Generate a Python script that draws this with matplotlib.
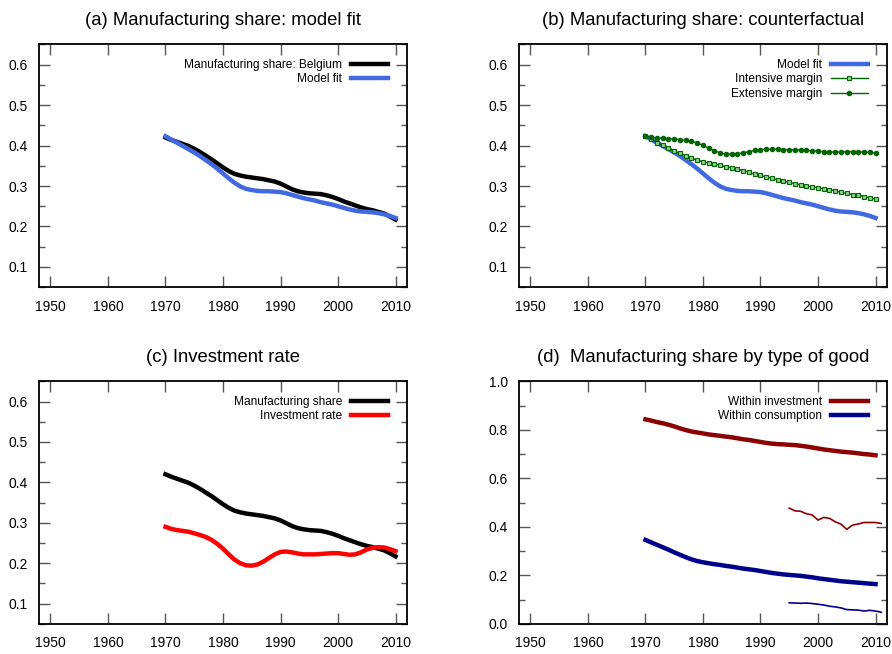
import numpy as np
import matplotlib
matplotlib.use('Agg')
import matplotlib.pyplot as plt
from matplotlib.ticker import MultipleLocator, FormatStrFormatter

plt.rcParams['font.family'] = ['Liberation Sans', 'DejaVu Sans']

years = list(range(1970, 2011))
years_thin = list(range(1995, 2012))

# manufacturing share, Belgium (data)
manuf_belgium = [0.420, 0.414, 0.409, 0.404, 0.399, 0.392, 0.384, 0.375, 0.366, 0.356,
                 0.346, 0.337, 0.330, 0.326, 0.323, 0.321, 0.319, 0.317, 0.314, 0.311,
                 0.306, 0.299, 0.292, 0.287, 0.284, 0.282, 0.281, 0.280, 0.277, 0.273,
                 0.268, 0.262, 0.257, 0.252, 0.247, 0.243, 0.240, 0.236, 0.232, 0.225,
                 0.217]
model_fit = [0.423, 0.415, 0.407, 0.399, 0.391, 0.383, 0.374, 0.364, 0.354, 0.343,
             0.331, 0.319, 0.308, 0.299, 0.293, 0.290, 0.288, 0.287, 0.287, 0.286,
             0.285, 0.282, 0.278, 0.274, 0.270, 0.267, 0.264, 0.260, 0.257, 0.254,
             0.250, 0.246, 0.242, 0.239, 0.237, 0.236, 0.235, 0.233, 0.230, 0.226,
             0.221]
intensive_margin = [0.424, 0.416, 0.406, 0.401, 0.394, 0.387, 0.381, 0.375, 0.369, 0.364,
                    0.360, 0.357, 0.354, 0.351, 0.348, 0.345, 0.342, 0.338, 0.334, 0.329,
                    0.326, 0.323, 0.319, 0.315, 0.312, 0.309, 0.306, 0.303, 0.300, 0.298,
                    0.296, 0.293, 0.291, 0.288, 0.284, 0.282, 0.279, 0.277, 0.274, 0.271,
                    0.267]
extensive_margin = [0.424, 0.421, 0.419, 0.418, 0.417, 0.416, 0.415, 0.413, 0.411, 0.406,
                    0.401, 0.393, 0.387, 0.382, 0.379, 0.379, 0.380, 0.382, 0.385, 0.388,
                    0.390, 0.391, 0.391, 0.391, 0.390, 0.390, 0.389, 0.389, 0.388, 0.387,
                    0.386, 0.385, 0.384, 0.384, 0.384, 0.385, 0.385, 0.385, 0.384, 0.383,
                    0.381]
investment_rate = [0.290, 0.285, 0.282, 0.280, 0.278, 0.274, 0.270, 0.265, 0.258, 0.248,
                   0.236, 0.222, 0.209, 0.200, 0.195, 0.194, 0.197, 0.204, 0.213, 0.222,
                   0.228, 0.229, 0.227, 0.224, 0.222, 0.222, 0.222, 0.223, 0.224, 0.225,
                   0.225, 0.223, 0.221, 0.222, 0.227, 0.234, 0.238, 0.240, 0.239, 0.235,
                   0.230]
within_investment = [0.843, 0.838, 0.832, 0.827, 0.821, 0.814, 0.806, 0.799, 0.793, 0.789,
                     0.785, 0.781, 0.778, 0.775, 0.772, 0.769, 0.765, 0.761, 0.758, 0.754,
                     0.750, 0.746, 0.743, 0.741, 0.740, 0.738, 0.737, 0.734, 0.731, 0.727,
                     0.723, 0.719, 0.716, 0.713, 0.710, 0.708, 0.706, 0.703, 0.700, 0.698,
                     0.695]
within_consumption = [0.346, 0.336, 0.326, 0.316, 0.306, 0.295, 0.285, 0.275, 0.266, 0.259,
                      0.254, 0.250, 0.246, 0.243, 0.239, 0.236, 0.232, 0.228, 0.225, 0.222,
                      0.218, 0.214, 0.210, 0.207, 0.204, 0.202, 0.200, 0.198, 0.195, 0.192,
                      0.188, 0.185, 0.182, 0.179, 0.176, 0.174, 0.172, 0.170, 0.168, 0.166,
                      0.164]
# thin lines 1995-2011
inv_thin = [0.477, 0.466, 0.464, 0.454, 0.449, 0.428, 0.439, 0.435, 0.421, 0.411,
            0.390, 0.407, 0.412, 0.418, 0.418, 0.418, 0.414]
cons_thin = [0.087, 0.086, 0.085, 0.086, 0.084, 0.081, 0.078, 0.073, 0.070, 0.066,
             0.059, 0.058, 0.057, 0.053, 0.056, 0.053, 0.048]

x_ticks = [1950, 1960, 1970, 1980, 1990, 2000, 2010]

ROYAL = '#4169e1'
GREEN = '#006400'
LW = 3.2

fig = plt.figure(figsize=(8.92, 6.54), dpi=100)
w, h = 0.4126, 0.371
ax_a = fig.add_axes([0.0437, 0.561, w, h])
ax_b = fig.add_axes([0.5818, 0.561, w, h])
ax_c = fig.add_axes([0.0437, 0.046, w, h])
ax_d = fig.add_axes([0.5818, 0.046, w, h])


def style_axes(ax, ylim, ymajor, yminor, fmt):
    ax.set_xlim(1948, 2012)
    ax.set_ylim(*ylim)
    ax.set_xticks(x_ticks)
    ax.yaxis.set_major_locator(MultipleLocator(ymajor))
    ax.yaxis.set_minor_locator(MultipleLocator(yminor))
    ax.yaxis.set_major_formatter(FormatStrFormatter(fmt))
    ax.tick_params(axis='both', which='major', direction='in', length=8, width=1,
                   color='#555555', labelsize=10, top=True, right=True, pad=8)
    ax.tick_params(axis='x', which='major', pad=9)
    ax.tick_params(axis='y', which='minor', direction='in', length=4, width=1,
                   color='#555555', right=True)
    for s in ax.spines.values():
        s.set_linewidth(1.3)


def legend(ax):
    ax.legend(loc='upper right', bbox_to_anchor=(0.948, 0.94), frameon=False,
              markerfirst=False, fontsize=8.6, handlelength=3.1, handletextpad=0.75,
              labelspacing=0.2, borderpad=0, borderaxespad=0, numpoints=1)


# (a)
ax_a.plot(years, manuf_belgium, color='black', lw=LW, label='Manufacturing share: Belgium')
ax_a.plot(years, model_fit, color=ROYAL, lw=LW, label='Model fit')
style_axes(ax_a, (0.05, 0.65), 0.1, 0.05, '%.1f')
ax_a.set_title('(a) Manufacturing share: model fit', fontsize=13.3, pad=14)
legend(ax_a)

# (b)
ax_b.plot(years, model_fit, color=ROYAL, lw=LW, label='Model fit')
ax_b.plot(years, intensive_margin, color=GREEN, lw=1, marker='s', ms=3.0,
          mfc='#8fd18f', mec=GREEN, mew=0.8, label='Intensive margin')
ax_b.plot(years, extensive_margin, color=GREEN, lw=1, marker='o', ms=3.0,
          mfc=GREEN, mec=GREEN, label='Extensive margin')
style_axes(ax_b, (0.05, 0.65), 0.1, 0.05, '%.1f')
ax_b.set_title('(b) Manufacturing share: counterfactual', fontsize=13.3, pad=14)
legend(ax_b)

# (c)
ax_c.plot(years, manuf_belgium, color='black', lw=LW, label='Manufacturing share')
ax_c.plot(years, investment_rate, color='red', lw=LW, label='Investment rate')
style_axes(ax_c, (0.05, 0.65), 0.1, 0.05, '%.1f')
ax_c.set_title('(c) Investment rate', fontsize=13.3, pad=14)
legend(ax_c)

# (d)
ax_d.plot(years, within_investment, color='#8b0000', lw=LW, label='Within investment')
ax_d.plot(years, within_consumption, color='#00008b', lw=LW, label='Within consumption')
ax_d.plot(years_thin, inv_thin, color='#8b0000', lw=1.2)
ax_d.plot(years_thin, cons_thin, color='#00008b', lw=1.2)
style_axes(ax_d, (0.0, 1.0), 0.2, 0.1, '%.1f')
ax_d.set_title('(d)  Manufacturing share by type of good', fontsize=13.3, pad=14)
legend(ax_d)

fig.savefig('out.png', dpi=100)
